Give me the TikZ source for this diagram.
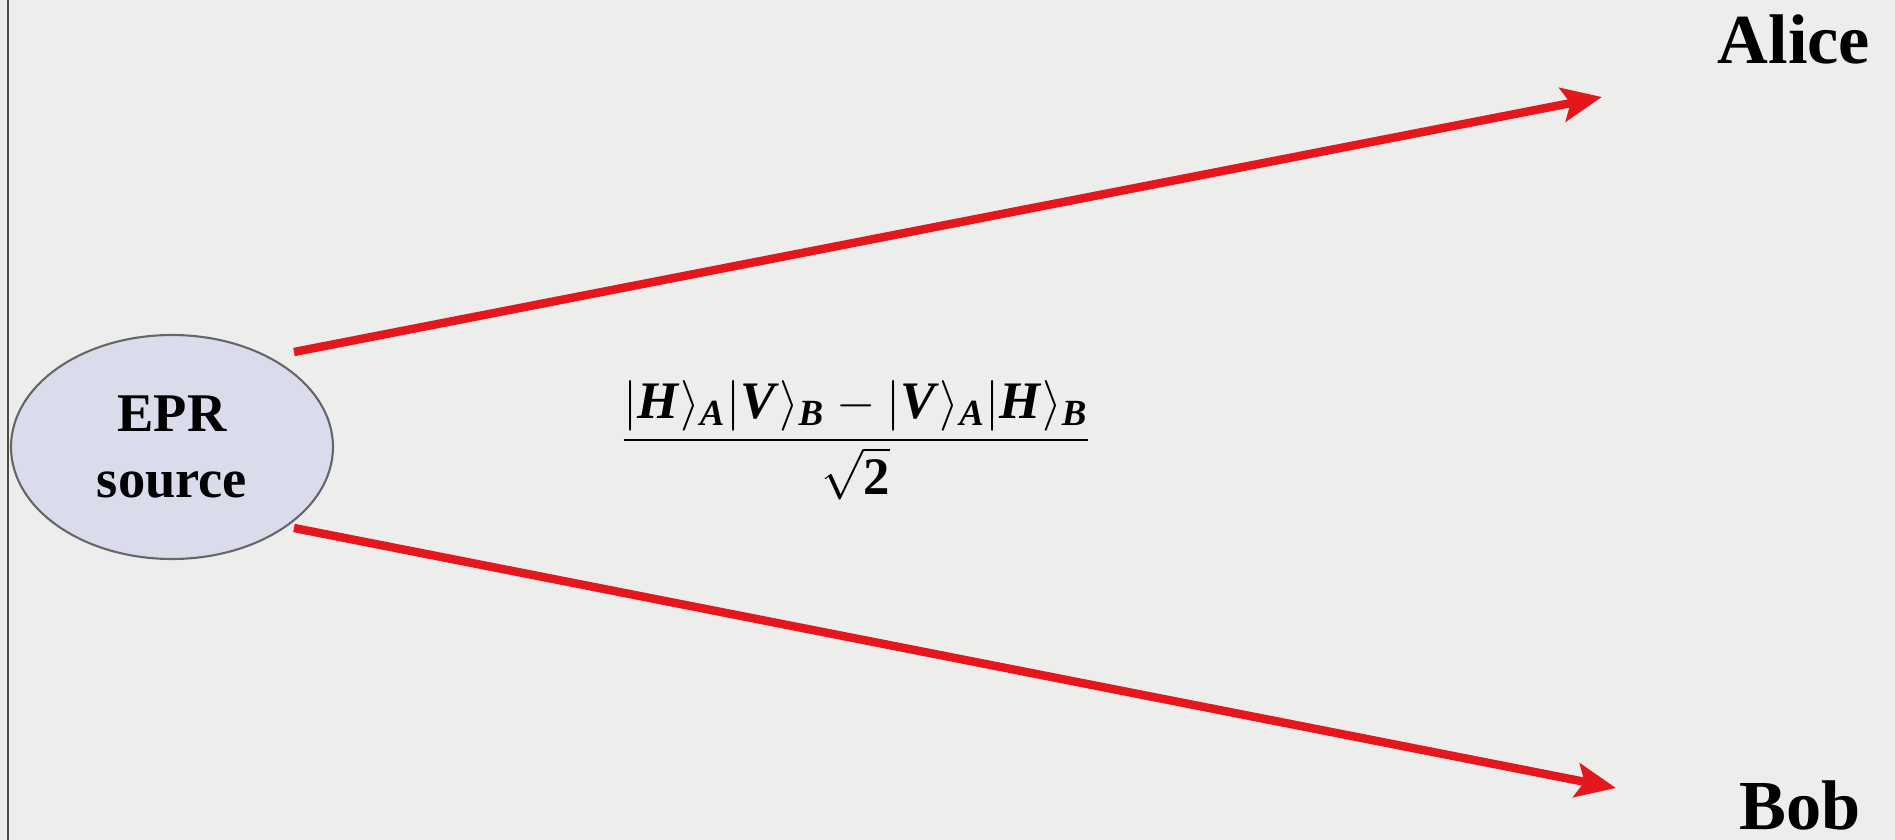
\documentclass[tikz,border=0pt]{standalone}
\usepackage{amsmath}
\usepackage{fontspec}
\setmainfont{Liberation Serif}
\usetikzlibrary{arrows.meta,shapes.geometric}
\definecolor{slidebg}{HTML}{EDEEEC}
\definecolor{srcfill}{HTML}{DADCEB}
\definecolor{beamred}{HTML}{E5161C}
\newcommand{\bi}[1]{\textbf{\textit{#1}}}
\tikzset{
  beam/.style={draw=beamred, line width=2.4pt, -{Stealth[length=4mm,width=3.4mm,inset=0.8mm]}},
  partylabel/.style={font=\bfseries\fontsize{20}{20}\selectfont, anchor=base, inner sep=0pt}
}

\begin{document}
\begin{tikzpicture}
            \useasboundingbox (0,0) rectangle (18.95,-8.4);
            \fill[slidebg] (0,0) rectangle (18.95,-8.4);
            \draw[black!70, line width=0.6pt] (0.08,0) -- (0.08,-8.4);

            % source
            \node[ellipse, draw=black!60, fill=srcfill, line width=0.6pt,
                  minimum width=3.22cm, minimum height=2.24cm, inner sep=0pt,
                  align=center, font=\bfseries\fontsize{15.5}{19}\selectfont] (epr) at (1.72,-4.47) {EPR\\source};

            \coordinate (a0) at (2.94,-3.52);
            \coordinate (a1) at (16.02,-0.97);
            \coordinate (b0) at (2.94,-5.28);
            \coordinate (b1) at (16.16,-7.88);

            \draw[beam] (a0) -- (a1);
            \draw[beam] (b0) -- (b1);

            \node[partylabel] (alice) at (17.94,-0.63) {Alice};
            \node[partylabel] (bob) at (18.0,-8.29) {Bob};

            \node[font=\fontsize{15}{17}\selectfont] (state) at (8.56,-4.4)
              {$\dfrac{|\bi{H}\rangle_{\bi{A}}|\bi{V}\rangle_{\bi{B}} - |\bi{V}\rangle_{\bi{A}}|\bi{H}\rangle_{\bi{B}}}{\sqrt{\textbf{2}}}$};
        \end{tikzpicture}
\end{document}
